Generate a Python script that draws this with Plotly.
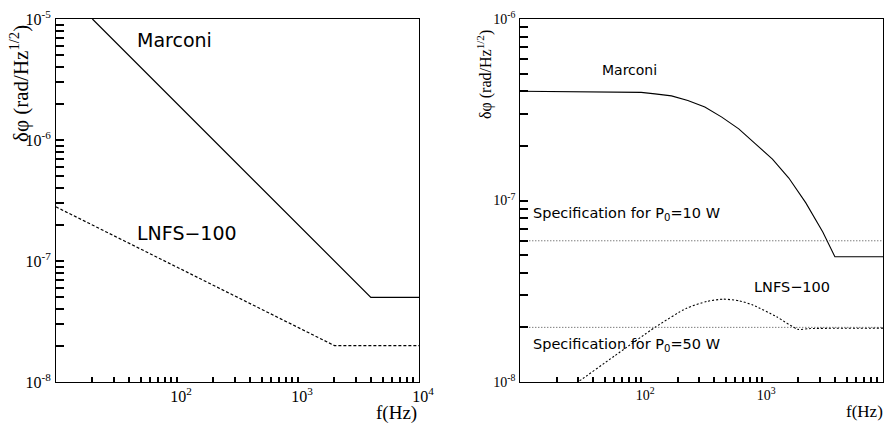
import plotly.graph_objects as go

# ---------------- data ----------------
# Left panel
left_marconi_f = [20, 4000, 10000]
left_marconi_y = [1.0e-5, 5.0e-8, 5.0e-8]
left_lnfs_f = [10, 100, 1000, 2000, 10000]
left_lnfs_y = [2.8e-7, 8.9e-8, 2.8e-8, 2.0e-8, 2.0e-8]

# Right panel
right_marconi_f = [10, 50, 100, 130, 178, 243, 336, 464, 641, 881, 1218, 1663, 2300, 3177, 4000, 10000]
right_marconi_y = [4.0e-7, 3.98e-7, 3.94e-7, 3.87e-7, 3.77e-7, 3.56e-7, 3.27e-7, 2.88e-7,
                   2.48e-7, 2.05e-7, 1.69e-7, 1.33e-7, 9.7e-8, 6.7e-8, 4.9e-8, 4.9e-8]
right_lnfs_f = [20, 30, 60, 130, 237, 350, 476, 650, 843, 1315, 1985, 2500, 10000]
right_lnfs_y = [8.3e-9, 1.0e-8, 1.39e-8, 2.0e-8, 2.55e-8, 2.78e-8, 2.86e-8, 2.8e-8,
                2.65e-8, 2.29e-8, 1.95e-8, 1.97e-8, 1.98e-8]
spec_f = [10, 10000]
spec10_y = [6.0e-8, 6.0e-8]
spec50_y = [2.0e-8, 2.0e-8]

# decade tick labels
x_decades = [10, 100, 1000, 10000]
x_decade_text = ["", "10<sup>2</sup>", "10<sup>3</sup>", "10<sup>4</sup>"]
yl_decades = [1e-8, 1e-7, 1e-6, 1e-5]
yl_decade_text = ["10<sup>-8</sup>", "10<sup>-7</sup>", "10<sup>-6</sup>", "10<sup>-5</sup>"]
yr_decades = [1e-8, 1e-7, 1e-6]
yr_decade_text = ["10<sup>-8</sup>", "10<sup>-7</sup>", "10<sup>-6</sup>"]

W, H = 888, 426


def px(x):
    return x / W


def py(y):
    return 1 - y / H


def ticks_with_minor(decades, texts):
    """Decade ticks (labelled) plus unlabelled 2..9 sub-decade ticks."""
    vals, txt = [], []
    for d, t in zip(decades, texts):
        vals.append(d)
        txt.append(t)
    for d in decades[:-1]:
        for k in range(2, 10):
            vals.append(k * d)
            txt.append("")
    return vals, txt


SERIF = "Liberation Serif"
SANS = "DejaVu Sans"

fig = go.Figure()
# left traces
fig.add_trace(go.Scatter(x=left_marconi_f, y=left_marconi_y, mode="lines",
                         line=dict(color="black", width=1.2), xaxis="x", yaxis="y", showlegend=False))
fig.add_trace(go.Scatter(x=left_lnfs_f, y=left_lnfs_y, mode="lines",
                         line=dict(color="black", width=1.2, dash="3px,2px"), xaxis="x", yaxis="y",
                         showlegend=False))
# right traces
fig.add_trace(go.Scatter(x=right_marconi_f, y=right_marconi_y, mode="lines",
                         line=dict(color="black", width=1.1),
                         xaxis="x2", yaxis="y2", showlegend=False))
fig.add_trace(go.Scatter(x=right_lnfs_f, y=right_lnfs_y, mode="lines",
                         line=dict(color="black", width=1.1, dash="2px,2px", shape="spline", smoothing=0.6),
                         xaxis="x2", yaxis="y2", showlegend=False))
fig.add_trace(go.Scatter(x=spec_f, y=spec10_y, mode="lines",
                         line=dict(color="#444444", width=1, dash="1px,2px"),
                         xaxis="x2", yaxis="y2", showlegend=False))
fig.add_trace(go.Scatter(x=spec_f, y=spec50_y, mode="lines",
                         line=dict(color="#444444", width=1, dash="1px,2px"),
                         xaxis="x2", yaxis="y2", showlegend=False))

base = dict(type="log", showline=True, linecolor="black", linewidth=1, mirror=True,
            ticks="inside", tickcolor="black", showgrid=False,
            zeroline=False, automargin=False, tickmode="array")

xv, xt = ticks_with_minor(x_decades, x_decade_text)
ylv, ylt = ticks_with_minor(yl_decades, yl_decade_text)
yrv, yrt = ticks_with_minor(yr_decades, yr_decade_text)

fig.update_layout(
    template="none",
    width=W, height=H, margin=dict(l=0, r=0, t=0, b=0, pad=0), autosize=False,
    paper_bgcolor="white", plot_bgcolor="white",
    xaxis=dict(base, domain=[px(56), px(419)], range=[1, 4], anchor="y",
               ticklen=5, tickwidth=2,
               tickvals=xv, ticktext=xt, ticklabelshift=4,
               tickfont=dict(family=SERIF, size=16, color="black")),
    yaxis=dict(base, domain=[py(382), py(19)], range=[-8, -5], anchor="x",
               ticklen=8, tickwidth=2,
               tickvals=ylv, ticktext=ylt, ticklabelstandoff=1,
               tickfont=dict(family=SERIF, size=16, color="black")),
    xaxis2=dict(base, domain=[px(520.3), px(883)], range=[1, 4], anchor="y2",
                ticklen=5, tickwidth=2,
                tickvals=xv, ticktext=xt, ticklabelshift=4,
                tickfont=dict(family=SERIF, size=14, color="black")),
    yaxis2=dict(base, domain=[py(382), py(19)], range=[-8, -6], anchor="x2",
                ticklen=8, tickwidth=2,
                tickvals=yrv, ticktext=yrt, ticklabelstandoff=1,
                tickfont=dict(family=SERIF, size=14, color="black")),
)


def ann(text, x, y, size, family=SANS, angle=0, xanchor="center"):
    fig.add_annotation(text=text, x=px(x), y=py(y), xref="paper", yref="paper",
                       showarrow=False, xanchor=xanchor, yanchor="middle", textangle=angle,
                       font=dict(family=family, size=size, color="black"))


ann("Marconi", 174, 39.5, 19)
ann("LNFS−100", 186.5, 233, 19)
ann("Marconi", 629, 70, 14)
ann("LNFS−100", 792, 287, 14.5)
ann("Specification for P<sub>0</sub>=10 W", 626, 214, 14.5)
ann("Specification for P<sub>0</sub>=50 W", 626, 345, 14.5)

ann("δφ (rad/Hz<sup>1/2</sup>)", 20, 84, 21, family=SERIF, angle=-90)
ann("δφ (rad/Hz<sup>1/2</sup>)", 484, 75, 16, family=SERIF, angle=-90)
ann("f(Hz)", 396, 413, 19, family=SERIF)
ann("f(Hz)", 864, 411, 17, family=SERIF)

fig.write_html(
    "out.html",
    default_width="888px",
    default_height="426px",
    post_script="document.documentElement.style.margin='0';document.body.style.margin='0';"
                "document.body.style.padding='0';document.body.style.overflow='hidden';",
)
